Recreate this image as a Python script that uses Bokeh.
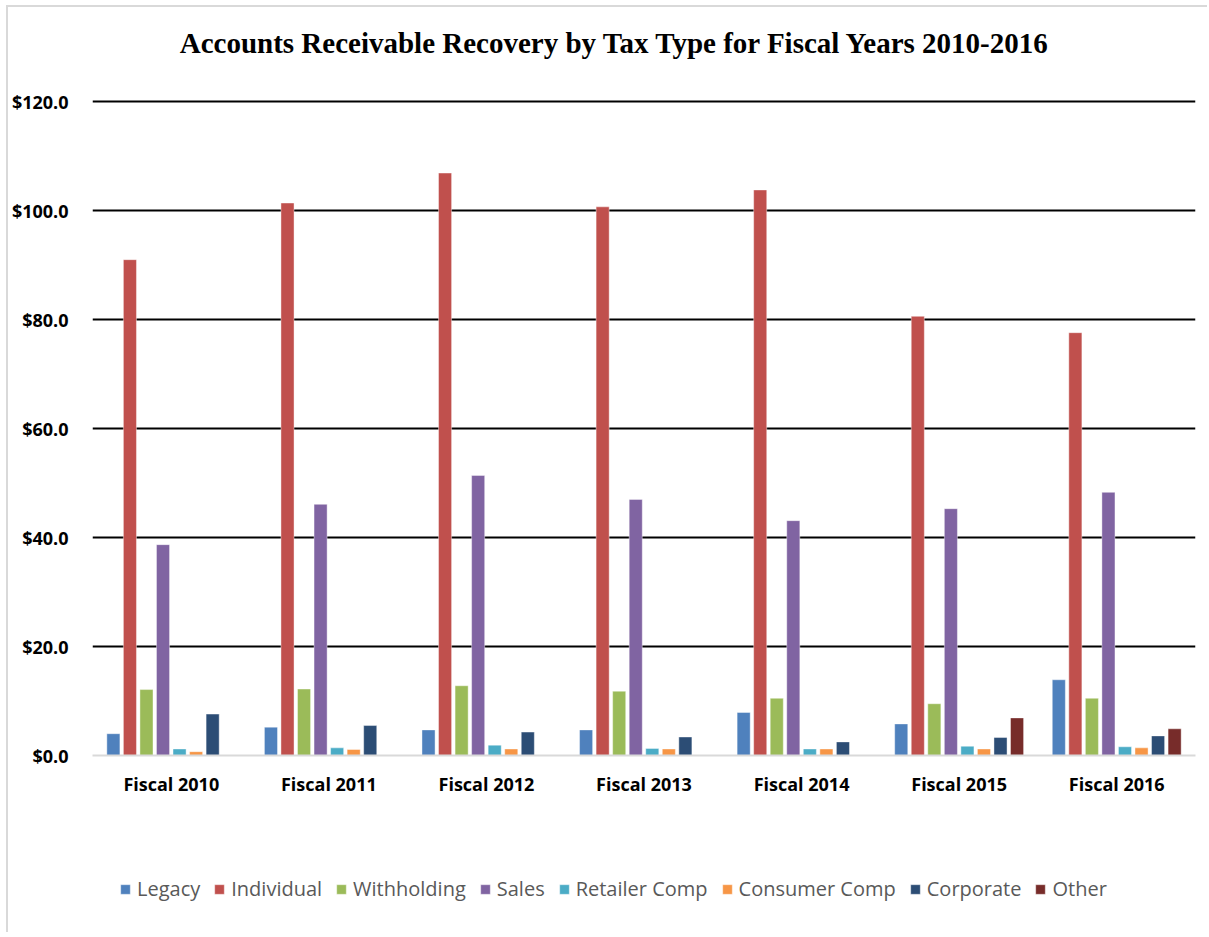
from bokeh.plotting import figure
from bokeh.layouts import column
from bokeh.models import ColumnDataSource, FactorRange, Legend, LegendItem, Label, NumeralTickFormatter, Range1d
from bokeh.transform import dodge
from bokeh.embed import file_html
from bokeh.resources import INLINE

years = ["Fiscal 2010", "Fiscal 2011", "Fiscal 2012", "Fiscal 2013", "Fiscal 2014", "Fiscal 2015", "Fiscal 2016"]
series = ["Legacy", "Individual", "Withholding", "Sales", "Retailer Comp", "Consumer Comp", "Corporate", "Other"]
legacy = [4.0, 5.2, 4.7, 4.7, 7.9, 5.8, 13.9]
individual = [91.0, 101.4, 106.9, 100.7, 103.8, 80.6, 77.6]
withholding = [12.1, 12.2, 12.8, 11.8, 10.5, 9.5, 10.5]
sales = [38.7, 46.1, 51.4, 47.0, 43.1, 45.3, 48.3]
retailer = [1.2, 1.4, 1.9, 1.3, 1.2, 1.7, 1.6]
consumer = [0.7, 1.1, 1.2, 1.2, 1.2, 1.2, 1.4]
corporate = [7.6, 5.5, 4.3, 3.4, 2.5, 3.3, 3.6]
other = [0.0, 0.0, 0.0, 0.0, 0.0, 6.9, 4.9]
colors = ["#4F81BD", "#C0504D", "#9BBB59", "#8064A2", "#4BACC6", "#F79646", "#2C4D75", "#772C2A"]
title_text = "Accounts Receivable Recovery by Tax Type for Fiscal Years 2010-2016"

values = [legacy, individual, withholding, sales, retailer, consumer, corporate, other]
data = {"year": years}
for name, vals in zip(series, values):
    data[name] = vals
src = ColumnDataSource(data)

# title strip
p0 = figure(x_range=Range1d(0, 1199), y_range=Range1d(0, 70), width=1199, height=70,
            output_backend="svg", toolbar_location=None, min_border=0)
p0.outline_line_color = None
p0.axis.visible = False
p0.grid.visible = False
p0.add_layout(Label(x=568, y=35, text=title_text, text_font="Liberation Serif",
                    text_font_style="bold", text_font_size="29px", text_align="center",
                    text_baseline="middle", text_color="black"))

# main chart
p = figure(x_range=FactorRange(*years), y_range=Range1d(0, 120.4),
           width=1199, height=760, output_backend="svg", toolbar_location=None,
           min_border_left=82, min_border_right=12, min_border_top=22, min_border_bottom=82)
p.outline_line_color = None

pitch = 0.105
bar_kw = dict(width=0.083, line_color="white", line_width=0.6, line_alpha=0.7)
for i, (name, col) in enumerate(zip(series, colors)):
    p.vbar(x=dodge("year", (i - 3.5) * pitch, range=p.x_range), top=name, source=src,
           fill_color=col, **bar_kw)

p.xgrid.grid_line_color = None
p.ygrid.grid_line_color = "black"
p.ygrid.grid_line_width = 1.8
p.yaxis.ticker = [0, 20, 40, 60, 80, 100, 120]
p.yaxis.formatter = NumeralTickFormatter(format="$0.0")
p.yaxis.axis_line_color = None
p.yaxis.major_tick_line_color = None
p.yaxis.minor_tick_line_color = None
p.yaxis.major_label_standoff = 18
p.yaxis.major_label_text_font = "Open Sans"
p.yaxis.major_label_text_font_style = "bold"
p.yaxis.major_label_text_font_size = "18px"
p.yaxis.major_label_text_color = "black"

p.xaxis.axis_line_color = "#D9D9D9"
p.xaxis.axis_line_width = 2
p.xaxis.major_tick_line_color = None
p.xaxis.minor_tick_line_color = None
p.xaxis.major_label_standoff = 10
p.xaxis.major_label_text_font = "Open Sans"
p.xaxis.major_label_text_font_style = "bold"
p.xaxis.major_label_text_font_size = "18px"
p.xaxis.major_label_text_color = "black"

# legend strip below the chart (bars here sit outside its visible range)
p2 = figure(x_range=FactorRange(*years), y_range=Range1d(1000, 1001),
            width=1199, height=95, output_backend="svg", toolbar_location=None,
            min_border=0)
p2.outline_line_color = None
p2.axis.visible = False
p2.grid.visible = False
items = []
for i, (name, col) in enumerate(zip(series, colors)):
    r = p2.vbar(x=dodge("year", (i - 3.5) * pitch, range=p2.x_range), top=name, source=src,
                fill_color=col, **bar_kw)
    items.append(LegendItem(label=name, renderers=[r]))
legend = Legend(items=items, orientation="horizontal", location=(27, 30),
                label_text_font="Open Sans", label_text_font_size="20px", label_text_color="#595959",
                glyph_width=12, glyph_height=12, label_standoff=6, spacing=13,
                padding=0, margin=0, border_line_color=None, background_fill_alpha=0)
p2.add_layout(legend)

layout = column(p0, p, p2, spacing=0, margin=(5, 0, 0, 6),
                styles={"border-top": "2px solid #D9D9D9", "border-left": "2px solid #D9D9D9"})
open("out.html", "w").write(file_html(layout, INLINE))
